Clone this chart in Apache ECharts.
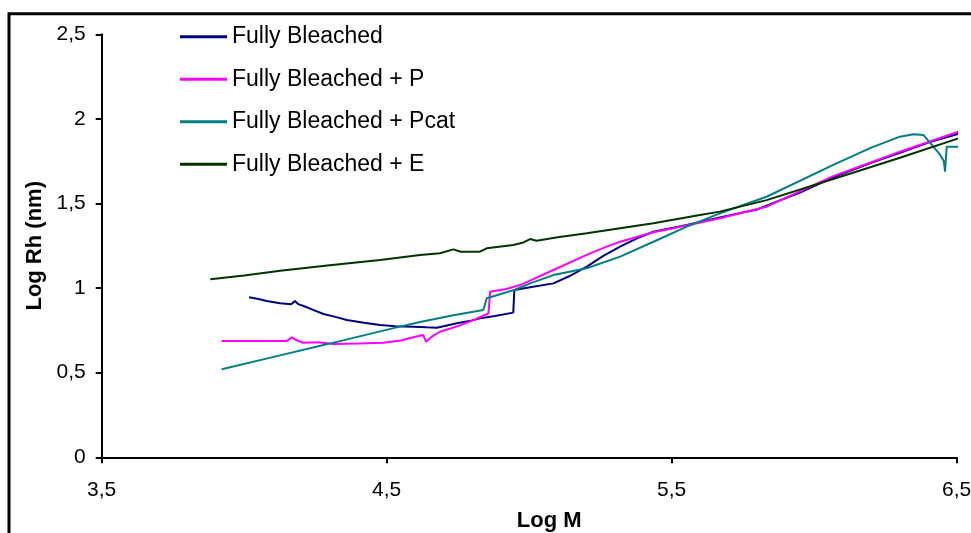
<!DOCTYPE html>
<html><head><meta charset="utf-8">
<script src="https://cdn.jsdelivr.net/npm/echarts@6/dist/echarts.min.js"></script>
<style>html,body{margin:0;padding:0;background:#fff}#c{width:971px;height:533px}</style>
</head><body><div id="c"></div>
<script>
// ---- data ----
const seriesNames = ['Fully Bleached', 'Fully Bleached + P', 'Fully Bleached + Pcat', 'Fully Bleached + E'];
const seriesColors = ['#000080', '#FF00FF', '#008080', '#003300'];

const fullyBleached = [
  [4.017,0.946],[4.05,0.935],[4.079,0.924],[4.126,0.910],[4.165,0.905],[4.178,0.924],[4.19,0.905],
  [4.215,0.89],[4.242,0.871],[4.278,0.847],[4.32,0.83],[4.36,0.811],[4.42,0.795],[4.477,0.782],
  [4.53,0.775],[4.593,0.772],[4.64,0.768],[4.675,0.766],[4.70,0.775],[4.746,0.792],[4.79,0.805],
  [4.827,0.821],[4.88,0.835],[4.944,0.855],[4.948,0.989],[5.003,1.005],[5.085,1.028],[5.14,1.07],
  [5.202,1.127],[5.26,1.19],[5.319,1.245],[5.38,1.295],[5.436,1.333],[5.553,1.373],[5.669,1.418],
  [5.8,1.465],[5.95,1.565],[6.067,1.655],[6.2,1.74],[6.301,1.80],[6.4,1.86],[6.506,1.912]
];
const fullyBleachedP = [
  [3.921,0.687],[4.05,0.687],[4.149,0.687],[4.167,0.709],[4.18,0.695],[4.207,0.677],[4.26,0.68],
  [4.313,0.67],[4.4,0.672],[4.488,0.677],[4.55,0.69],[4.593,0.709],[4.628,0.723],[4.638,0.683],
  [4.66,0.715],[4.687,0.742],[4.75,0.775],[4.804,0.811],[4.857,0.851],[4.863,0.979],[4.92,0.995],
  [4.968,1.018],[5.085,1.107],[5.202,1.196],[5.272,1.245],[5.319,1.274],[5.436,1.33],[5.553,1.37],
  [5.669,1.413],[5.833,1.481],[6.067,1.662],[6.301,1.806],[6.506,1.924]
];
const fullyBleachedPcat = [
  [3.921,0.520],[4.1,0.592],[4.3,0.672],[4.535,0.768],[4.617,0.80],[4.734,0.84],[4.839,0.871],
  [4.851,0.94],[4.95,0.99],[5.003,1.028],[5.085,1.077],[5.202,1.117],[5.319,1.186],[5.436,1.274],
  [5.553,1.363],[5.669,1.442],[5.833,1.540],[6.067,1.728],[6.2,1.83],[6.301,1.895],[6.348,1.909],
  [6.383,1.905],[6.418,1.836],[6.442,1.787],[6.455,1.75],[6.459,1.688],[6.465,1.836],[6.506,1.836]
];
const fullyBleachedE = [
  [3.881,1.052],[4.0,1.075],[4.126,1.103],[4.3,1.135],[4.477,1.166],[4.617,1.196],[4.687,1.206],
  [4.734,1.229],[4.76,1.215],[4.827,1.215],[4.851,1.235],[4.944,1.255],[4.98,1.27],[5.003,1.29],
  [5.026,1.28],[5.1,1.30],[5.202,1.324],[5.436,1.383],[5.599,1.432],[5.669,1.452],[5.833,1.52],
  [6.067,1.645],[6.301,1.77],[6.506,1.885]
];

const xTickValues = [3.5, 4.5, 5.5, 6.5];
const xTickLabels = ['3,5', '4,5', '5,5', '6,5'];
const yTickValues = [0, 0.5, 1, 1.5, 2, 2.5];
const yTickLabels = ['0', '0,5', '1', '1,5', '2', '2,5'];
const xTitle = 'Log M';
const yTitle = 'Log Rh (nm)';

// ---- chart ----
const FONT = '"Liberation Sans", Arial, sans-serif';
const allData = [fullyBleached, fullyBleachedP, fullyBleachedPcat, fullyBleachedE];
const chart = echarts.init(document.getElementById('c'), null, {renderer: 'canvas'});

function labelFor(values, labels) {
  return v => {
    const i = values.findIndex(t => Math.abs(t - v) < 1e-9);
    return i >= 0 ? labels[i] : '';
  };
}

chart.setOption({
  animation: false,
  backgroundColor: '#fff',
  grid: {left: 101.7, right: 14.3, top: 34.3, bottom: 75.7, containLabel: false, outerBoundsMode: 'none'},
  graphic: [{
    type: 'rect', silent: true, z: 100,
    shape: {x: 9, y: 13.8, width: 1200, height: 800},
    style: {fill: 'none', stroke: '#000', lineWidth: 3}
  }],
  legend: {
    orient: 'vertical', left: 180, top: 25.2, padding: 0,
    itemWidth: 47, itemHeight: 3, itemGap: 19.5, icon: 'rect',
    data: seriesNames,
    textStyle: {fontFamily: FONT, fontSize: 23, color: '#000', lineHeight: 23}
  },
  xAxis: {
    type: 'value', min: 3.5, max: 6.5, interval: 1,
    name: xTitle, nameLocation: 'middle', nameGap: 53,
    nameTextStyle: {fontFamily: FONT, fontSize: 22, fontWeight: 'bold', color: '#000', padding: [0, 0, 0, 40]},
    axisLine: {show: true, onZero: false, lineStyle: {color: '#000', width: 2}},
    axisTick: {show: true, inside: false, length: 6, lineStyle: {color: '#000', width: 2}},
    axisLabel: {margin: 22, fontFamily: FONT, fontSize: 21, color: '#000', formatter: labelFor(xTickValues, xTickLabels), showMaxLabel: true, showMinLabel: true},
    splitLine: {show: false}
  },
  yAxis: {
    type: 'value', min: 0, max: 2.5, interval: 0.5,
    name: yTitle, nameLocation: 'middle', nameGap: 56, nameRotate: 90,
    nameTextStyle: {fontFamily: FONT, fontSize: 22, fontWeight: 'bold', color: '#000'},
    axisLine: {show: true, onZero: false, lineStyle: {color: '#000', width: 2}},
    axisTick: {show: true, inside: false, length: 6, lineStyle: {color: '#000', width: 2}},
    axisLabel: {margin: 16, fontFamily: FONT, fontSize: 21, color: '#000', formatter: labelFor(yTickValues, yTickLabels)},
    splitLine: {show: false}
  },
  series: seriesNames.map((n, i) => ({
    name: n, type: 'line', data: allData[i], showSymbol: false, symbol: 'none',
    color: seriesColors[i],
    lineStyle: {color: seriesColors[i], width: 2},
    itemStyle: {color: seriesColors[i]}
  }))
});
</script></body></html>
